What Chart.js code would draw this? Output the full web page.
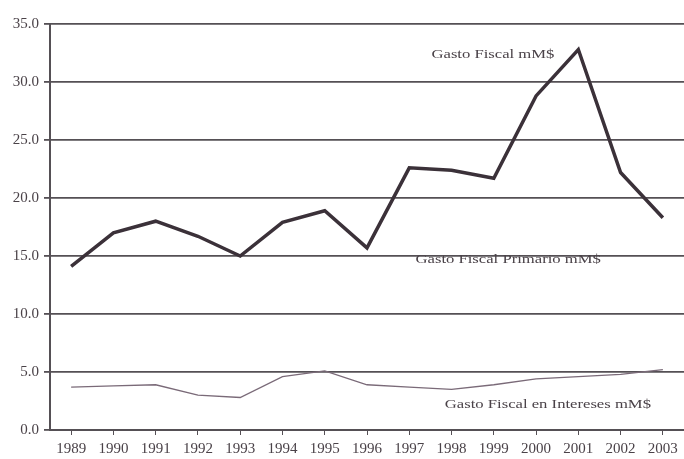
<!DOCTYPE html>
<html>
<head>
<meta charset="utf-8">
<script src="https://cdn.jsdelivr.net/npm/chart.js@4/dist/chart.umd.min.js"></script>
<style>
    html, body { margin: 0; padding: 0; background: #ffffff; }
    #wrap { width: 684px; height: 459px; }
</style>
</head>
<body>
<div id="wrap"><canvas id="gastoChart"></canvas></div>
<script>
// Years on the x axis
const years = ['1989', '1990', '1991', '1992', '1993', '1994', '1995', '1996', '1997', '1998', '1999', '2000', '2001', '2002', '2003'];

// Gasto Fiscal mM$ (thick line)
const gastoFiscal = [14.1, 17.0, 18.0, 16.7, 15.0, 17.9, 18.9, 15.7, 22.6, 22.4, 21.7, 28.8, 32.8, 22.2, 18.3];

// Gasto Fiscal en Intereses mM$ (thin line)
const gastoIntereses = [3.7, 3.8, 3.9, 3.0, 2.8, 4.6, 5.1, 3.9, 3.7, 3.5, 3.9, 4.4, 4.6, 4.8, 5.2];

// Text labels placed inside the plot: [text, x index, y value]
const seriesNotes = [
    ['Gasto Fiscal mM$', 9.98, 32.4],
    ['Gasto Fiscal Primario mM$', 10.34, 14.7],
    ['Gasto Fiscal en Intereses mM$', 11.28, 2.2]
];

const yTicks = [0, 5, 10, 15, 20, 25, 30, 35];

const serif = '"Liberation Serif", "DejaVu Serif", serif';

// draw the series notes with the chart's own scales
const notesPlugin = {
    id: 'seriesNotes',
    afterDatasetsDraw(chart) {
        const ctx = chart.ctx;
        const xs = chart.scales.x;
        const ys = chart.scales.y;
        seriesNotes.forEach(([text, xi, yv]) => {
            const px = xs.getPixelForValue(0) + (xs.getPixelForValue(1) - xs.getPixelForValue(0)) * xi;
            ctx.save();
            ctx.translate(px, ys.getPixelForValue(yv));
            ctx.scale(1.28, 1); // the scanned text is stretched sideways
            ctx.font = '13px ' + serif;
            ctx.fillStyle = '#4a4248';
            ctx.textAlign = 'center';
            ctx.textBaseline = 'middle';
            ctx.fillText(text, 0, 0);
            ctx.restore();
        });
    }
};

const ctx = document.getElementById('gastoChart').getContext('2d');
new Chart(ctx, {
    type: 'line',
    data: {
        labels: years,
        datasets: [{
            label: 'Gasto Fiscal mM$',
            data: gastoFiscal,
            borderColor: '#3b3139',
            borderWidth: 3.5,
            pointRadius: 0,
            tension: 0,
            fill: false
        }, {
            label: 'Gasto Fiscal en Intereses mM$',
            data: gastoIntereses,
            borderColor: '#7a6a78',
            borderWidth: 1.3,
            pointRadius: 0,
            tension: 0,
            fill: false
        }]
    },
    options: {
        responsive: true,
        maintainAspectRatio: false,
        animation: false,
        layout: {
            padding: { top: 24, right: 0, bottom: 0, left: 0 }
        },
        plugins: {
            legend: { display: false },
            tooltip: { enabled: false }
        },
        scales: {
            x: {
                offset: true,
                grid: {
                    display: true,
                    drawOnChartArea: false,
                    drawTicks: true,
                    tickLength: 5,
                    color: '#555055',
                    offset: false
                },
                border: { color: '#555055', width: 2 },
                ticks: {
                    color: '#4a4248',
                    font: { family: serif, size: 15 },
                    maxRotation: 0,
                    autoSkip: false,
                    padding: 5
                },
                afterFit(axis) {
                    axis.height = 29;
                }
            },
            y: {
                min: 0,
                max: 35,
                afterBuildTicks(axis) {
                    axis.ticks = yTicks.map(v => ({ value: v }));
                },
                afterFit(axis) {
                    axis.width = 50;
                },
                grid: {
                    color: '#555055',
                    lineWidth: 1.8,
                    drawTicks: true,
                    tickLength: 6
                },
                border: { color: '#555055', width: 2 },
                ticks: {
                    color: '#4a4248',
                    font: { family: serif, size: 15 },
                    padding: 5,
                    callback: (v) => Number(v).toFixed(1)
                }
            }
        }
    },
    plugins: [notesPlugin]
});
</script>
</body>
</html>
